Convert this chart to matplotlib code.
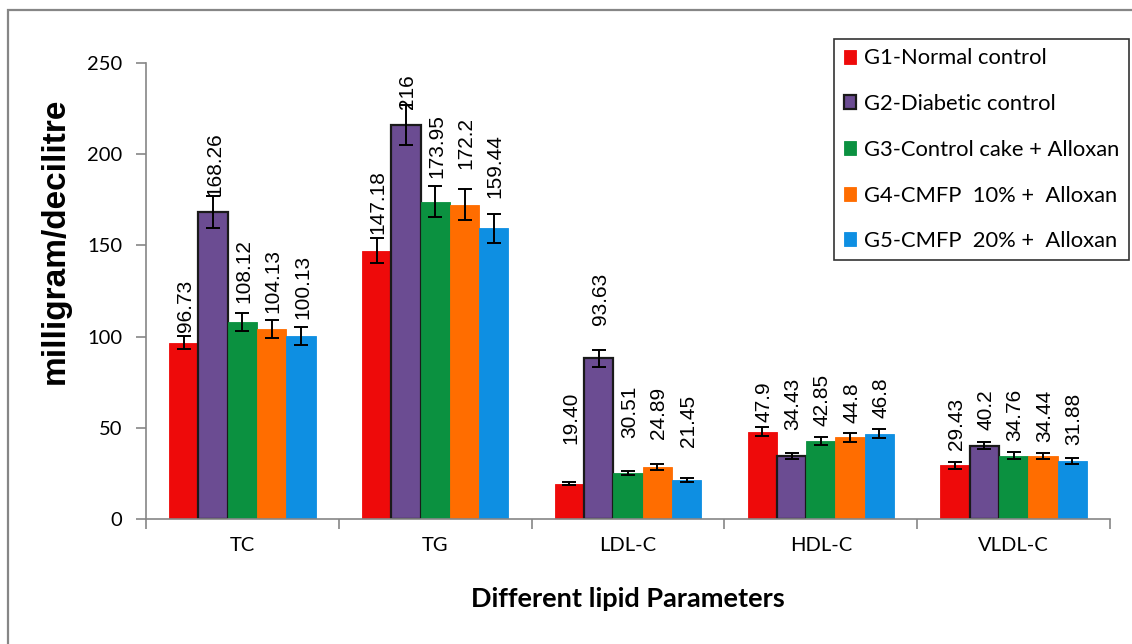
import numpy as np
import matplotlib
matplotlib.use("Agg")
import matplotlib.pyplot as plt
from matplotlib.patches import Rectangle

# ---------------------------------------------------------
# data
# ---------------------------------------------------------
params = ["TC", "TG", "LDL-C", "HDL-C", "VLDL-C"]
groups = ["G1-Normal control", "G2-Diabetic control", "G3-Control cake + Alloxan",
          "G4-CMFP  10% +  Alloxan", "G5-CMFP  20% +  Alloxan"]

# bar heights (as drawn)
g1 = [96.73, 147.18, 19.40, 47.9, 29.43]
g2 = [168.26, 216, 88.0, 34.43, 40.2]
g3 = [108.12, 173.95, 25.2, 42.85, 34.76]
g4 = [104.13, 172.2, 28.5, 44.8, 34.44]
g5 = [100.13, 159.44, 21.45, 46.8, 31.88]

# error bars
e1 = [3.6, 7.0, 1.0, 2.5, 1.8]
e2 = [8.8, 11.0, 4.4, 1.5, 1.8]
e3 = [5.0, 8.5, 1.2, 2.2, 1.8]
e4 = [5.0, 8.5, 1.5, 2.4, 1.8]
e5 = [5.0, 8.0, 1.2, 2.4, 1.8]

# data label texts
t1 = ["96.73", "147.18", "19.40", "47.9", "29.43"]
t2 = ["168.26", "216", "93.63", "34.43", "40.2"]
t3 = ["108.12", "173.95", "30.51", "42.85", "34.76"]
t4 = ["104.13", "172.2", "24.89", "44.8", "34.44"]
t5 = ["100.13", "159.44", "21.45", "46.8", "31.88"]

values = [g1, g2, g3, g4, g5]
errors = [e1, e2, e3, e4, e5]
texts = [t1, t2, t3, t4, t5]

# ---------------------------------------------------------
# style
# ---------------------------------------------------------
colors = ["#EE0A0A", "#6B4C92", "#0B9140", "#FF6D00", "#0E8FE2"]
# label gap above error cap (points), per group x parameter
label_pad = [
    [3, 3, 27, 4, 9],
    [0, -3, 18, 17, 9],
    [7, 6, 24, 8, 8],
    [5, 15, 18, 7, 8],
    [6, 11, 22, 8, 9],
]

grey = "#868686"
label_font = "Lato"

fig = plt.figure(figsize=(11.32, 6.44), dpi=100)
ax = fig.add_axes([0.129, 0.1941, 0.8516, 0.7081])

# outer frame of the chart area
fig.patches.append(Rectangle((8 / 1132, -0.1), 1.2, 1 - 10 / 644 + 0.1,
                             transform=fig.transFigure, fill=False,
                             edgecolor=grey, linewidth=1.6, zorder=0))

x = np.arange(len(params))
w = 0.152
offs = (np.arange(5) - 2) * w

for i in range(5):
    edge = "#1a1a1a" if i == 1 else colors[i]
    lw = 1.6 if i == 1 else 0.6
    ax.bar(x + offs[i], values[i], width=w, color=colors[i],
           edgecolor=edge, linewidth=lw, label=groups[i], zorder=2)
    ax.errorbar(x + offs[i], values[i], yerr=errors[i], fmt="none",
                ecolor="black", elinewidth=1.4, capsize=5, capthick=1.4, zorder=3)
    for j in range(len(params)):
        top = values[i][j] + errors[i][j]
        ax.annotate(texts[i][j], (x[j] + offs[i], top),
                    xytext=(1, label_pad[i][j]), textcoords="offset points",
                    rotation=90, ha="center", va="bottom",
                    fontsize=15, family="Liberation Sans", zorder=4)

ax.set_xlim(-0.5, len(params) - 0.5)
ax.set_ylim(0, 250)
ax.set_yticks(range(0, 251, 50))
ax.set_xticks(x)
ax.set_xticklabels(params, fontsize=14.5, family=label_font)
ax.set_xticks(np.arange(len(params) + 1) - 0.5, minor=True)
ax.tick_params(axis="x", which="major", length=0, pad=13)
ax.tick_params(axis="x", which="minor", length=7, color=grey, width=1.2, direction="out")
ax.tick_params(axis="y", length=7, color=grey, width=1.2, direction="out", pad=10)
for lab in ax.get_yticklabels():
    lab.set_fontsize(14.5)
    lab.set_family(label_font)

for s in ["top", "right"]:
    ax.spines[s].set_visible(False)
for s in ["left", "bottom"]:
    ax.spines[s].set_color(grey)
    ax.spines[s].set_linewidth(1.2)

ax.set_ylabel("milligram/decilitre", fontsize=24, fontweight="bold",
              family="Liberation Sans")
ax.yaxis.set_label_coords(-0.0785, 0.61)
ax.set_xlabel("Different lipid Parameters", fontsize=19.5, fontweight="bold",
              family=label_font, labelpad=24)

leg = ax.legend(loc="upper right", bbox_to_anchor=(1.0197, 1.052), frameon=True,
                fancybox=False, edgecolor="black", handlelength=0.55, handleheight=0.6,
                handletextpad=0.4, labelspacing=1.17, borderpad=0.42, borderaxespad=0,
                prop={"family": label_font, "size": 15.8})
leg.get_frame().set_linewidth(1.2)

fig.savefig("out.png", dpi=100)
